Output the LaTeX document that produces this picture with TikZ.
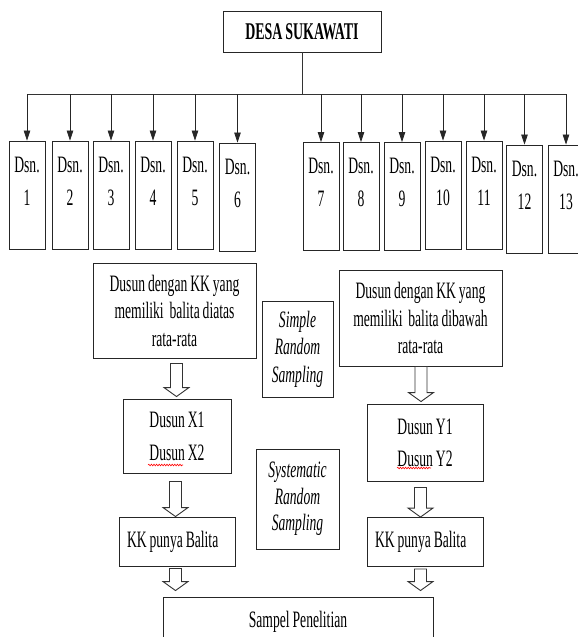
\documentclass[tikz,border=0pt]{standalone}
\usepackage{fontspec}
\setmainfont{Liberation Serif}[FakeStretch=0.58, WordSpace=0.85]
\usetikzlibrary{arrows.meta,calc,decorations.pathmorphing}
\tikzset{
  box/.style={draw=black!85, line width=0.9pt, inner sep=0pt, align=center,
    font=\fontsize{23.5}{27.5}\selectfont},
  dsnbox/.style={box, minimum width=36pt, minimum height=108pt},
  kkbox/.style={box, minimum width=116pt, minimum height=49pt},
  tip/.style={-{Triangle[width=6.5pt,length=10pt]}, line width=0.8pt, draw=black!85, fill=black!85},
  busline/.style={line width=0.9pt, draw=black!80},
  hollow/.style={draw=black!80, line width=0.9pt, fill=white},
  wavy/.style={draw=red, line width=0.6pt, decorate,
    decoration={snake, segment length=2.6pt, amplitude=0.8pt}}
}
\newcommand\dsntext[1]{\parbox[c][108pt][t]{36pt}{\centering\fontsize{23.5}{33}\selectfont\rule{0pt}{31pt}Dsn.\\#1}}
\newcommand\kktext[1]{\makebox[100pt][l]{#1}}
% hollow block arrow: source, target, x offset, top gap, bottom gap
\newcommand\harrow[5]{%
  \draw[hollow] let \p1=($(#1.south)+(#3,0)$), \p2=(#2.north) in
    (\x1-6pt,\y1-#4) -- (\x1+6pt,\y1-#4) -- (\x1+6pt,\y2+#5+9pt)
    -- (\x1+12.5pt,\y2+#5+9pt) -- (\x1,\y2+#5)
    -- (\x1-12.5pt,\y2+#5+9pt) -- (\x1-6pt,\y2+#5+9pt) -- cycle;}
\begin{document}
\begin{tikzpicture}[x=1pt,y=-1pt]
\useasboundingbox (0,0) rectangle (578,637);

% top
\node[box, minimum width=158pt, minimum height=41pt,
  font=\fontsize{24}{28}\selectfont\bfseries] (desa) at (302,31.5) {DESA SUKAWATI};

% dusun boxes
\foreach \i/\x/\y in {1/27/195, 2/70/195, 3/111/195, 4/153/195, 5/195/195,
  6/237.5/197, 7/321/196.5, 8/361/196.5, 9/402/196.5, 10/443/195, 11/484/195,
  12/524.5/199, 13/566/199}
  \node[dsnbox] (d\i) at (\x,\y) {\dsntext{\i}};

\coordinate (busL) at (27,94);
\coordinate (busR) at (566,94);
\draw[busline] (busL) -- (busR);
\draw[busline] (desa.south) -- (desa.south |- busL);
\foreach \i in {1,...,13}
  \draw[tip] (d\i.north |- busL) -- (d\i.north);

% middle
\node[box, minimum width=163pt, minimum height=95pt] (big1) at (174.5,310.5)
  {Dusun dengan KK yang\\memiliki\ \ balita diatas\\rata-rata};
\node[box, minimum width=163pt, minimum height=96pt] (big2) at (420.5,318)
  {Dusun dengan KK yang\\memiliki\ \ balita dibawah\\rata-rata};
\node[box, minimum width=71pt, minimum height=96pt,
  font=\fontsize{23.5}{27.5}\selectfont\itshape] (srs) at (297.5,349)
  {Simple\\Random\\Sampling};

\node[box, minimum width=108pt, minimum height=74pt] (dx) at (177,436)
  {Dusun X1\\[5.5pt]Dusun X2};
\node[box, minimum width=116pt, minimum height=77pt] (dy) at (425,442.5)
  {Dusun Y1\\[4.5pt]Dusun Y2};
\node[box, minimum width=83pt, minimum height=100pt,
  font=\fontsize{23.5}{26.5}\selectfont\itshape] (sys) at (297.5,499)
  {Systematic\\Random\\Sampling};

\node[kkbox] (kk1) at (177,541.5) {\kktext{KK punya Balita}};
\node[kkbox] (kk2) at (425,542) {\kktext{KK punya Balita}};

\node[box, minimum width=270pt, minimum height=49.5pt] (sampel) at (298,621.75)
  {Sampel Penelitian};

% spell-check underlines
\draw[wavy] (148,465) -- (183,465);
\draw[wavy] (397,468) -- (431,468);

% block arrows
\harrow{big1}{dx}{2pt}{5pt}{2pt}
\harrow{big2}{dy}{0.5pt}{0pt}{2pt}
\harrow{dx}{kk1}{-1.5pt}{8pt}{0pt}
\harrow{dy}{kk2}{-4.5pt}{6pt}{0pt}
\harrow{kk1}{sampel}{-1.5pt}{2pt}{6pt}
\harrow{kk2}{sampel}{-4.5pt}{2pt}{6pt}
\end{tikzpicture}
\end{document}
